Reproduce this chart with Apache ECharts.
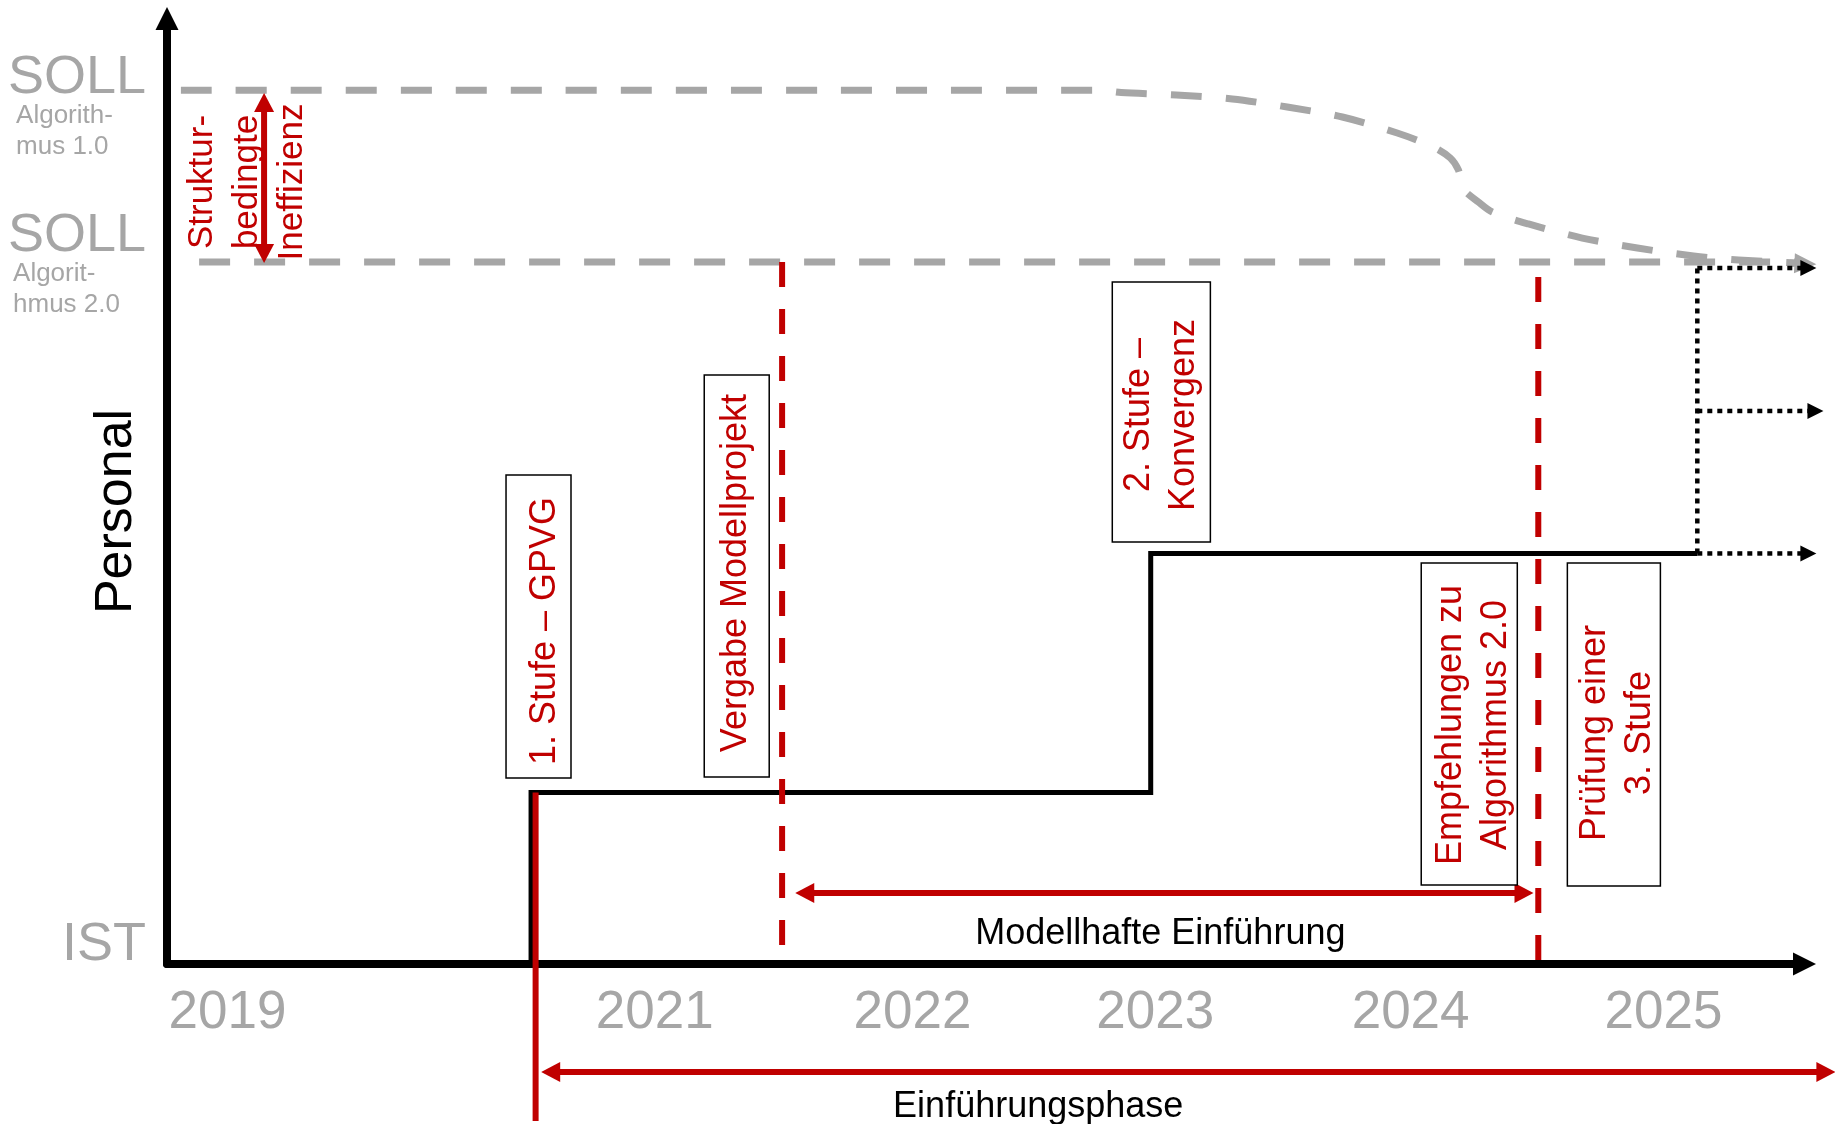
<!DOCTYPE html>
<html><head><meta charset="utf-8">
<script src="https://cdn.jsdelivr.net/npm/echarts@6/dist/echarts.min.js"></script>
<style>html,body{margin:0;padding:0;background:#fff}#c{width:1835px;height:1124px}</style>
</head><body><div id="c"></div>
<script>
// ---------- data (x in years, y in arbitrary "Personal" units 0..100) ----------
const xRange = [2019.081, 2025.558];
const yRange = [0, 100];
const years = [2019, 2021, 2022, 2023, 2024, 2025];
const yearPositions = [2019.32, 2021.01, 2022.03, 2022.99, 2024.0, 2025.0];

// SOLL Algorithmus 1.0 curve (flat, then converging to Algorithmus 2.0)
const sollCurveX = [2019.136, 2022.772, 2022.855, 2023.073, 2023.295, 2023.512, 2023.730, 2023.947, 2024.090, 2024.157, 2024.189, 2024.209, 2024.268, 2024.323, 2024.466, 2024.679, 2024.897, 2025.119, 2025.297, 2025.522];
const sollCurveY = [92.4, 92.4, 92.17, 91.91, 91.49, 90.64, 89.58, 87.89, 86.41, 85.25, 83.98, 81.97, 80.59, 79.53, 78.27, 76.78, 75.73, 74.88, 74.46, 74.14];
const sollCurveHead = [[2025.50, 74.14, 2025.605, 74.0]];
// SOLL Algorithmus 2.0 line
const soll2X = [2019.208, 2025.52];
const soll2Y = [74.25, 74.25];
// IST step line (Personal)
const stepX = [2020.521, 2020.521, 2022.972, 2022.972, 2025.134];
const stepY = [0, 18.14, 18.14, 43.42, 43.42];
// dotted continuation
const dottedVertical = [[2025.134, 43.42], [2025.134, 73.61]];
const dottedArrows = [[2025.134, 73.61, 2025.605, 73.61], [2025.134, 58.49, 2025.633, 58.49], [2025.134, 43.42, 2025.605, 43.42]];
// red milestone lines
const redDashed1 = [[2021.514, 74.25], [2021.514, 1.9]];
const redDashed2 = [[2024.505, 72.66], [2024.505, -0.21]];
const redStart = [[2020.539, 18.14], [2020.539, -16.61]];
const redEdge = [[2025.677, 102.5], [2025.677, -17.5]];
// red double arrows
const redArrows = [
  [2021.566, 7.51, 2024.486, 7.51],    // Modellhafte Einführung
  [2020.561, -11.42, 2025.680, -11.42], // Einführungsphase
  [2019.465, 92.12, 2019.465, 74.14]   // Strukturbedingte Ineffizienz
];
// boxed milestone labels: [x1, yTop, x2, yBottom]
const boxTexts = ['1. Stufe – GPVG', 'Vergabe Modellprojekt', '2. Stufe –\nKonvergenz', 'Empfehlungen zu\nAlgorithmus 2.0', 'Prüfung einer\n3. Stufe'];
const boxRanges = [
  [2020.422, 51.72, 2020.679, 19.67],
  [2021.206, 62.30, 2021.463, 19.78],
  [2022.820, 72.13, 2023.208, 44.63],
  [2024.042, 42.41, 2024.422, 8.36],
  [2024.620, 42.41, 2024.988, 8.25]
];
const boxTextPos = [[2020.577, 35.22], [2021.332, 41.35], [2023.014, 58.06], [2024.248, 25.28], [2024.818, 24.43]];
// side labels
const sideTexts = ['SOLL', 'SOLL', 'IST'];
const sidePos = [[2018.998, 93.71], [2018.998, 77.0], [2018.998, 2.01]];
const algoTexts = ['Algorith-\nmus 1.0', 'Algorit-\nhmus 2.0'];
const algoPos = [[2018.484, 88.05], [2018.472, 71.34]];
const axisTitle = ['Personal'];
const axisTitlePos = [[2018.883, 47.86]];
const gapTexts = ['Struktur-\nbedingte\nIneffizienz'];
const gapPos = [[2019.398, 82.71]];
const phaseTexts = ['Modellhafte Einführung', 'Einführungsphase'];
const phasePos = [[2023.010, 3.18], [2022.527, -15.12]];

// ---------- chart ----------
const RED = '#c00000', GRAY = '#a6a6a6', FONT = '"Liberation Sans", Arial, Helvetica, sans-serif';
const pairs = (xs, ys) => xs.map((x, i) => [x, ys[i]]);

function lineSeries(data, color, width, dash, z, smooth) {
  return { type: 'line', data, symbol: 'none', clip: false, silent: true, z, smooth: smooth || false,
    lineStyle: { color, width, type: dash || 'solid', cap: 'butt', join: 'miter' } };
}
function arrowSeries(segs, opt) {
  return {
    type: 'custom', coordinateSystem: 'cartesian2d', clip: false, silent: true, z: opt.z || 5, data: segs,
    renderItem(params, api) {
      const p1 = api.coord([api.value(0), api.value(1)]);
      const p2 = api.coord([api.value(2), api.value(3)]);
      const dx = p2[0] - p1[0], dy = p2[1] - p1[1], len = Math.hypot(dx, dy) || 1;
      const ux = dx / len, uy = dy / len, nx = -uy, ny = ux;
      const L = opt.head[0], W = opt.head[1];
      const a = opt.start ? [p1[0] + ux * L * 0.8, p1[1] + uy * L * 0.8] : p1;
      const b = opt.end ? [p2[0] - ux * L * 0.8, p2[1] - uy * L * 0.8] : p2;
      const children = [];
      if (opt.shaft !== false) children.push({ type: 'line', shape: { x1: a[0], y1: a[1], x2: b[0], y2: b[1] },
        style: { stroke: opt.color, lineWidth: opt.width, lineDash: opt.dash || null, lineCap: 'butt' } });
      const head = (tip, dir) => ({ type: 'polygon', shape: { points: [tip,
        [tip[0] - dir * ux * L + nx * W / 2, tip[1] - dir * uy * L + ny * W / 2],
        [tip[0] - dir * ux * L - nx * W / 2, tip[1] - dir * uy * L - ny * W / 2]] }, style: { fill: opt.color } });
      if (opt.end) children.push(head(p2, 1));
      if (opt.start) children.push(head(p1, -1));
      return { type: 'group', children };
    }
  };
}
function textSeries(positions, texts, style, rotate, z) {
  return { type: 'custom', coordinateSystem: 'cartesian2d', clip: false, silent: true, z: z || 10, data: positions,
    renderItem(params, api) {
      const p = api.coord([api.value(0), api.value(1)]);
      return { type: 'text', x: p[0], y: p[1], rotation: rotate ? Math.PI / 2 : 0,
        style: Object.assign({ text: texts[params.dataIndex], fontFamily: FONT }, style) };
    } };
}
const boxSeries = { type: 'custom', coordinateSystem: 'cartesian2d', clip: false, silent: true, z: 8, data: boxRanges,
  renderItem(params, api) {
    const a = api.coord([api.value(0), api.value(1)]);
    const b = api.coord([api.value(2), api.value(3)]);
    return { type: 'rect', shape: { x: a[0], y: a[1], width: b[0] - a[0], height: b[1] - a[1] },
      style: { fill: '#fff', stroke: '#000', lineWidth: 1.5 } };
  } };

const chart = echarts.init(document.getElementById('c'));
chart.setOption({
  animation: false,
  backgroundColor: '#fff',
  grid: { left: 167, right: 30.5, top: 18.5, bottom: 160, containLabel: false, outerBoundsMode: 'none' },
  xAxis: { type: 'value', min: xRange[0], max: xRange[1],
    axisLine: { show: true, onZero: false, lineStyle: { color: '#000', width: 8 }, symbol: ['none', 'triangle'], symbolSize: [23, 23] },
    axisTick: { show: false }, splitLine: { show: false },
    axisLabel: { customValues: yearPositions, margin: 49, verticalAlign: 'middle', color: GRAY, fontSize: 53, fontFamily: FONT,
      formatter: (v) => { let bi = 0; yearPositions.forEach((p, i) => { if (Math.abs(p - v) < Math.abs(yearPositions[bi] - v)) bi = i; }); return String(years[bi]); } } },
  yAxis: { type: 'value', min: yRange[0], max: yRange[1],
    axisLine: { show: true, onZero: false, lineStyle: { color: '#000', width: 8 }, symbol: ['none', 'triangle'], symbolSize: [23, 23] },
    axisTick: { show: false }, splitLine: { show: false }, axisLabel: { show: false } },
  series: [
    lineSeries(pairs(soll2X, soll2Y), GRAY, 7, [31, 24], 3),
    lineSeries(pairs(sollCurveX, sollCurveY), GRAY, 7, [31, 24], 3, 0.3),
    arrowSeries(sollCurveHead, { color: GRAY, width: 7, head: [22, 20], end: true, z: 3 }),
    lineSeries(pairs(stepX, stepY), '#000', 5, null, 4),
    lineSeries(dottedVertical, '#000', 4.5, [5, 5], 4),
    arrowSeries(dottedArrows, { color: '#000', width: 4.5, dash: [5, 5], head: [16, 16], end: true, z: 4 }),
    lineSeries(redDashed1, RED, 6, [25, 22], 6),
    lineSeries(redDashed2, RED, 6, [25, 22], 6),
    lineSeries(redStart, RED, 6, null, 6),
    lineSeries(redEdge, RED, 1.5, null, 6),
    arrowSeries(redArrows, { color: RED, width: 6, head: [19, 20], start: true, end: true, z: 6 }),
    boxSeries,
    textSeries(boxTextPos, boxTexts, { fill: RED, fontSize: 36, align: 'center', verticalAlign: 'middle', lineHeight: 45 }, true, 9),
    textSeries(sidePos, sideTexts, { fill: GRAY, fontSize: 54, align: 'right', verticalAlign: 'middle' }),
    textSeries(algoPos, algoTexts, { fill: GRAY, fontSize: 26, align: 'left', verticalAlign: 'middle', lineHeight: 31 }),
    textSeries(axisTitlePos, axisTitle, { fill: '#000', fontSize: 52, align: 'center', verticalAlign: 'middle' }, true),
    textSeries(gapPos, gapTexts, { fill: RED, fontSize: 35, align: 'center', verticalAlign: 'middle', lineHeight: 45 }, true),
    textSeries(phasePos, phaseTexts, { fill: '#000', fontSize: 36, align: 'center', verticalAlign: 'middle' })
  ]
});
</script>
</body></html>
